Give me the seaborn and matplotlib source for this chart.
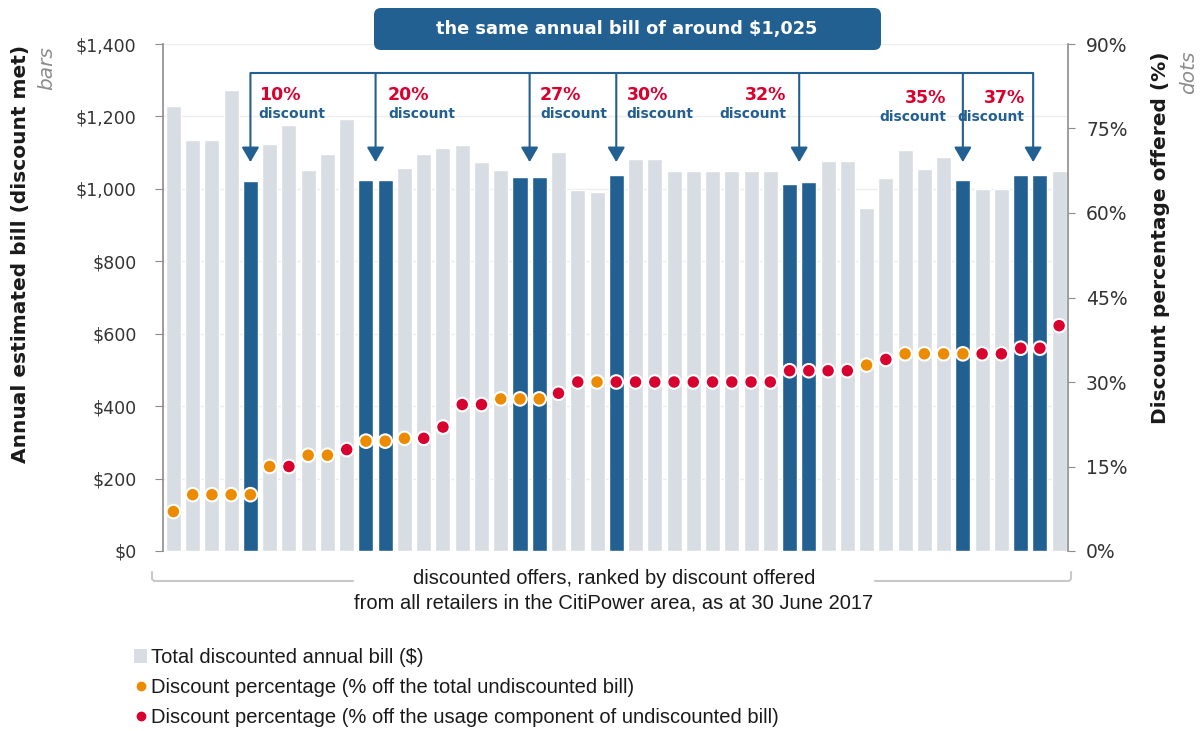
import numpy as np
import pandas as pd
import seaborn as sns
import matplotlib.pyplot as plt
from matplotlib.patches import FancyBboxPatch, Patch
from matplotlib.lines import Line2D
from matplotlib.transforms import IdentityTransform
from matplotlib.ticker import FuncFormatter

# annual bill for each discounted offer ($), ranked by discount
bill = [1229, 1135, 1135, 1273, 1022, 1123, 1177, 1053, 1096, 1192,
        1025, 1025, 1058, 1095, 1113, 1120, 1074, 1051, 1033, 1033,
        1102, 998, 990, 1038, 1083, 1083, 1049, 1049, 1049, 1049,
        1049, 1049, 1013, 1019, 1077, 1077, 947, 1031, 1107, 1055,
        1089, 1025, 1000, 1000, 1038, 1038, 1050]
# discount offered (%)
pct = [7, 10, 10, 10, 10, 15, 15, 17, 17, 18,
       19.5, 19.5, 20, 20, 22, 26, 26, 27, 27, 27,
       28, 30, 30, 30, 30, 30, 30, 30, 30, 30,
       30, 30, 32, 32, 32, 32, 33, 34, 35, 35,
       35, 35, 35, 35, 36, 36, 40]
# what the discount is taken off: 'total' bill or 'usage' component
kind = ['total'] * 6 + ['usage', 'total', 'total', 'usage',
        'total', 'total', 'total', 'usage', 'usage', 'usage', 'usage',
        'total', 'total', 'total', 'usage', 'usage', 'total'] + ['usage'] * 13 + \
       ['total', 'usage', 'total', 'total', 'total', 'total'] + ['usage'] * 5
# offers with a bill of around $1,025
highlight = [4, 10, 11, 18, 19, 23, 32, 33, 41, 44, 45]

callout_labels = ['10%', '20%', '27%', '30%', '32%', '35%', '37%']
callout_x = [4, 10.5, 18.5, 23, 32.5, 41, 44.65]
callout_dx = [6, 9, 7.5, 7.5, -9, -12, -6]     # text offset from arrow, points
callout_dy = [0, 0, 0, 0, 0, -2, -2]

GREY = '#d8dde3'
BLUE = '#236092'
ORANGE = '#ec8b00'
RED = '#d8002f'
SPINE = '#8c8c8c'
W, H = 1203, 731

df = pd.DataFrame({'offer': range(len(bill)), 'bill': bill, 'pct': pct, 'kind': kind})
df['group'] = np.where(df['offer'].isin(highlight), 'hl', 'other')

sns.set_style('white')
plt.rcParams['font.family'] = ['DejaVu Sans']

fig = plt.figure(figsize=(W / 100, H / 100), dpi=100)
ax = fig.add_axes([163 / W, 180 / H, 905 / W, 507 / H])

sns.barplot(data=df, x='offer', y='bill', hue='group',
            palette={'hl': BLUE, 'other': GREY}, dodge=False, width=0.78,
            saturation=1, legend=False, ax=ax)
ax.set_ylim(0, 1400)
ax.set_yticks(range(0, 1401, 200))
ax.yaxis.set_major_formatter(FuncFormatter(lambda v, p: '${:,.0f}'.format(v)))
ax.yaxis.grid(True, color='#ededed', lw=1)
ax.set_axisbelow(True)
ax.set_xlabel('')
ax.set_ylabel('')

ax2 = ax.twinx()
sns.scatterplot(data=df, x='offer', y='pct', hue='kind',
                palette={'total': ORANGE, 'usage': RED}, s=95,
                edgecolor='white', linewidth=1.5, legend=False, ax=ax2, zorder=3)
ax2.set_ylim(0, 90)
ax2.set_yticks(range(0, 91, 15))
ax2.yaxis.set_major_formatter(FuncFormatter(lambda v, p: '{:.0f}%'.format(v)))
ax2.set_ylabel('')
ax.set_xlim(-0.54, 46.46)
ax.set_xticks([])

for s in ['top', 'right', 'bottom']:
    ax.spines[s].set_visible(False)
for s in ['top', 'left', 'bottom']:
    ax2.spines[s].set_visible(False)
ax.spines['left'].set_color(SPINE)
ax.spines['left'].set_linewidth(1.2)
ax2.spines['right'].set_color(SPINE)
ax2.spines['right'].set_linewidth(1.2)
ax.tick_params(axis='y', length=6, color=SPINE, labelsize=12.5, labelcolor='#333333', pad=13)
ax2.tick_params(axis='y', length=5, color=SPINE, labelsize=13.5, labelcolor='#333333', pad=8)

# axis titles
fig.text(21 / W, 1 - 254 / H, 'Annual estimated bill (discount met)', rotation=90,
         ha='center', va='center', fontsize=14.5, fontweight='bold', color='#1a1a1a')
fig.text(47 / W, 1 - 46 / H, 'bars', rotation=90, ha='center', va='top',
         style='italic', fontsize=14.5, color='#8c8c8c')
fig.text(1161 / W, 1 - 238 / H, 'Discount percentage offered (%)', rotation=90,
         ha='center', va='center', fontsize=14.5, fontweight='bold', color='#1a1a1a')
fig.text(1189 / W, 1 - 50 / H, 'dots', rotation=90, ha='center', va='top',
         style='italic', fontsize=14.5, color='#8c8c8c')

# callouts: bracket line with arrows down to the ~$1,025 bars
trans = ax.get_xaxis_transform()
y_bracket, y_tip, y_pct, y_disc = 0.9428, 0.767, 0.899, 0.862
ax.plot([callout_x[0], callout_x[-1]], [y_bracket, y_bracket], transform=trans,
        color=BLUE, lw=1.5, clip_on=False, solid_capstyle='butt')
for lab, x, dx, dy in zip(callout_labels, callout_x, callout_dx, callout_dy):
    ax.annotate('', xy=(x, y_tip), xytext=(x, y_bracket), xycoords=trans,
                arrowprops=dict(arrowstyle='-|>,head_length=0.6,head_width=0.35',
                                mutation_scale=15, color=BLUE, lw=1.5,
                                shrinkA=0, shrinkB=0))
    ha = 'left' if dx > 0 else 'right'
    ax.annotate(lab, xy=(x, y_pct), xycoords=trans, xytext=(dx, dy),
                textcoords='offset points', ha=ha, va='center',
                color=RED, fontweight='bold', fontsize=12.5)
    ax.annotate('discount', xy=(x, y_disc), xycoords=trans, xytext=(dx, dy),
                textcoords='offset points', ha=ha, va='center',
                color=BLUE, fontweight='bold', fontsize=10)

# header box
box = FancyBboxPatch((374, H - 50), 507, 42, boxstyle='round,pad=0,rounding_size=7',
                     transform=IdentityTransform(), facecolor=BLUE, edgecolor='none')
fig.add_artist(box)
fig.text(627 / W, 1 - 29 / H, 'the same annual bill of around $1,025', ha='center',
         va='center', color='white', fontweight='bold', fontsize=12.8)

# bottom bracket and caption
yb = H - 581
fig.add_artist(Line2D([152, 152, 154, 353], [yb + 9, yb + 2, yb, yb],
                      transform=IdentityTransform(), color='#c8c8c8', lw=1.5))
fig.add_artist(Line2D([875, 1069, 1071, 1071], [yb, yb, yb + 2, yb + 9],
                      transform=IdentityTransform(), color='#c8c8c8', lw=1.5))
fig.text(614 / W, 1 - 579 / H, 'discounted offers, ranked by discount offered',
         ha='center', va='center', family='Liberation Sans', fontsize=14.5, color='#1a1a1a')
fig.text(614 / W, 1 - 603 / H, 'from all retailers in the CitiPower area, as at 30 June 2017',
         ha='center', va='center', family='Liberation Sans', fontsize=14.5, color='#1a1a1a')

# legend
handles = [Patch(facecolor=GREY, edgecolor='none'),
           Line2D([], [], marker='o', ls='', color=ORANGE, markersize=6),
           Line2D([], [], marker='o', ls='', color=RED, markersize=6)]
labels = ['Total discounted annual bill ($)',
          'Discount percentage (% off the total undiscounted bill)',
          'Discount percentage (% off the usage component of undiscounted bill)']
fig.legend(handles, labels, loc='upper left', bbox_to_anchor=(134 / W, 1 - 648 / H),
           frameon=False, prop={'family': 'Liberation Sans', 'size': 14.5},
           handlelength=0.65, handleheight=0.65, handletextpad=0.2, labelspacing=0.55,
           borderpad=0, borderaxespad=0, labelcolor='#1a1a1a')

fig.savefig('out.png', dpi=100)
